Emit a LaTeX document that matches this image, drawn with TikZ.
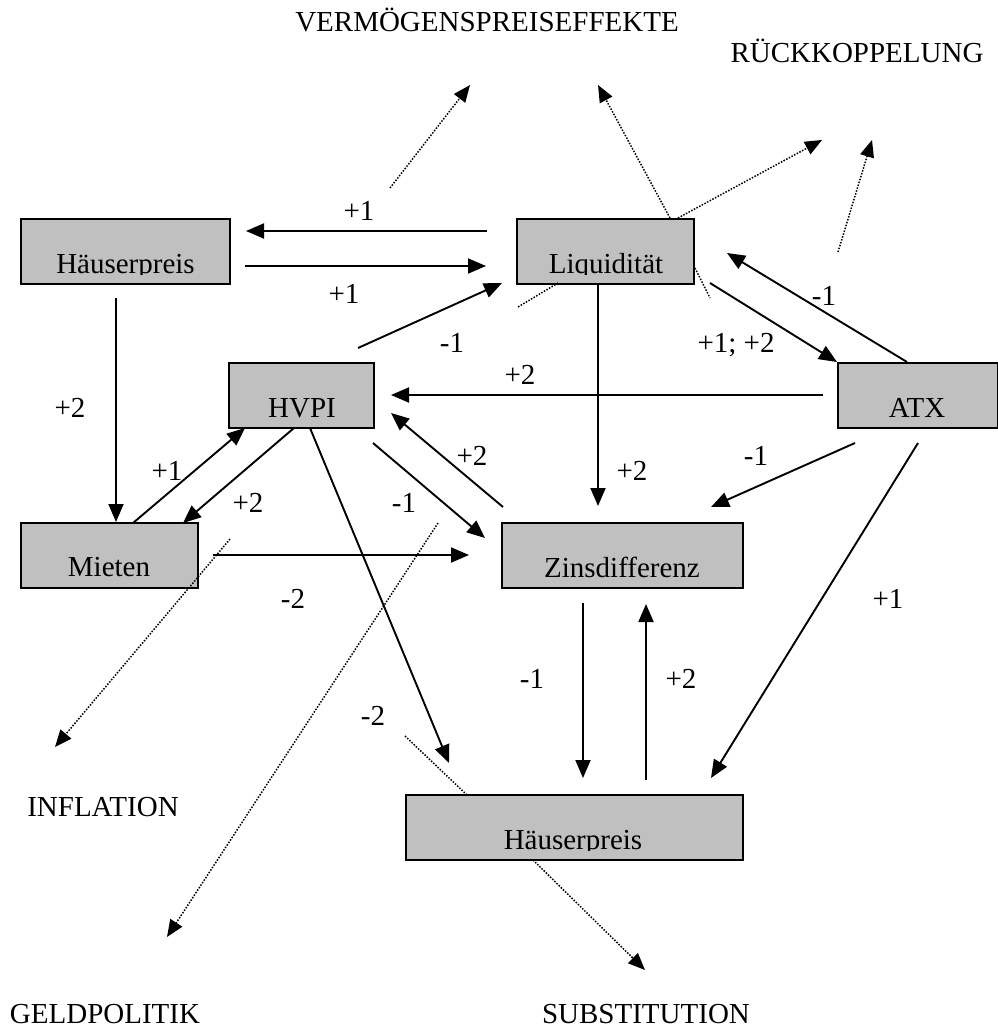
\documentclass[tikz,border=0pt]{standalone}
\usepackage{fontspec}
\setmainfont{Liberation Serif}
\usetikzlibrary{arrows.meta}
\definecolor{boxgray}{RGB}{192,192,192}
\newcommand\boxlabel[4]{\begin{scope}\clip ([yshift=10pt]#1.south west) rectangle (#1.north east);\node[txt] (#1t) at (#2,#3) {#4};\end{scope}}
\begin{document}
\begin{tikzpicture}[x=1pt,y=-1pt,
  box/.style={draw=black, fill=boxgray, line width=1.6pt, minimum width=#1, minimum height=65pt, inner sep=0pt, anchor=center},
  txt/.style={font=\fontsize{29}{34}\selectfont, inner sep=0pt, anchor=base},
  arr/.style={line width=1.9pt, -{Triangle[length=18pt,width=15pt]}},
  dotline/.style={line width=1.5pt, dash pattern=on 1.5pt off 1.5pt},
  dotarr/.style={dotline, -{Triangle[length=17pt,width=14pt]}}]
\fill[white] (0,0) rectangle (997,1030);
\useasboundingbox (0,0) rectangle (997,1030);

% boxes
\node[box=209pt] (hp1) at (125.5,251.5) {};
\node[box=177pt] (liq) at (605.5,251.5) {};
\node[box=145pt] (hvpi) at (301.5,395.5) {};
\node[box=160pt] (atx) at (918,395.5) {};
\node[box=177pt] (mie) at (109.5,555.5) {};
\node[box=241pt] (zins) at (622.5,555.5) {};
\node[box=337pt] (hp2) at (574.5,827.5) {};

\boxlabel{hp1}{125.5}{273}{Häuserpreis}
\boxlabel{liq}{606}{273}{Liquidität}
\boxlabel{hvpi}{302}{417}{HVPI}
\boxlabel{atx}{917}{417}{ATX}
\boxlabel{mie}{109}{576}{Mieten}
\boxlabel{zins}{622}{577}{Zinsdifferenz}
\boxlabel{hp2}{573}{849}{Häuserpreis}

% outer labels
\node[txt] (verm) at (487,32) {VERMÖGENSPREISEFFEKTE};
\node[txt] (rueck) at (857,63) {RÜCKKOPPELUNG};
\node[txt] (infl) at (103,816) {INFLATION};
\node[txt] (geld) at (105,1023) {GELDPOLITIK};
\node[txt] (subst) at (646,1023) {SUBSTITUTION};

% connector end points
\coordinate (a1s) at (487,231);  \coordinate (a1e) at (246,231);
\coordinate (a2s) at (245,266);  \coordinate (a2e) at (486,266);
\coordinate (a3s) at (358,348);  \coordinate (a3e) at (502,283);
\coordinate (a4s) at (116,298);  \coordinate (a4e) at (116,522);
\coordinate (a5s) at (133,523);  \coordinate (a5e) at (245,428);
\coordinate (a6s) at (294,428);  \coordinate (a6e) at (183,523);
\coordinate (a7s) at (310,428);  \coordinate (a7e) at (449,763);
\coordinate (a8s) at (373,443);  \coordinate (a8e) at (485,538);
\coordinate (a9s) at (503,507);  \coordinate (a9e) at (391,413);
\coordinate (a10s) at (213,555); \coordinate (a10e) at (469,555);
\coordinate (a11s) at (598,283); \coordinate (a11e) at (598,506);
\coordinate (a12s) at (710,283); \coordinate (a12e) at (837,362);
\coordinate (a13s) at (907,362); \coordinate (a13e) at (727,253);
\coordinate (a14s) at (823,395); \coordinate (a14e) at (391,395);
\coordinate (a15s) at (855,443); \coordinate (a15e) at (711,507);
\coordinate (a16s) at (918,443); \coordinate (a16e) at (711,778);
\coordinate (a17s) at (583,603); \coordinate (a17e) at (583,778);
\coordinate (a18s) at (646,780); \coordinate (a18e) at (646,604);

\coordinate (d1s) at (390,188);  \coordinate (d1e) at (470,85);
\coordinate (d2s) at (670,218);  \coordinate (d2e) at (598,85);
\coordinate (d3s) at (678,218);  \coordinate (d3e) at (822,140);
\coordinate (d4s) at (838,252);  \coordinate (d4e) at (872,140);
\coordinate (d5s) at (558,283);  \coordinate (d5e) at (518,307);
\coordinate (d6s) at (695,268);  \coordinate (d6e) at (710,298);
\coordinate (d7s) at (230,539);  \coordinate (d7e) at (55,747);
\coordinate (d8s) at (438,523);  \coordinate (d8e) at (167,937);
\coordinate (d9s) at (405,736);  \coordinate (d9e) at (467,795);
\coordinate (d10s) at (533,860); \coordinate (d10e) at (645,970);

% solid arrows
\foreach \i in {1,...,18} {\draw[arr] (a\i s) -- (a\i e);}

% dotted connectors
\foreach \i in {1,2,3,4,7,8,10} {\draw[dotarr] (d\i s) -- (d\i e);}
\foreach \i in {5,6,9} {\draw[dotline] (d\i s) -- (d\i e);}

% numbers
\node[txt] (n1) at (359,220) {+1};
\node[txt] (n2) at (344,303) {+1};
\node[txt] (n3) at (452,352) {-1};
\node[txt] (n4) at (70,417) {+2};
\node[txt] (n5) at (167,480) {+1};
\node[txt] (n6) at (248,512) {+2};
\node[txt] (n7) at (404,512) {-1};
\node[txt] (n8) at (293,608) {-2};
\node[txt] (n9) at (472,465) {+2};
\node[txt] (n10) at (520,384) {+2};
\node[txt] (n11) at (736,352) {+1; +2};
\node[txt] (n12) at (824,305) {-1};
\node[txt] (n13) at (632,480) {+2};
\node[txt] (n14) at (756,465) {-1};
\node[txt] (n15) at (888,608) {+1};
\node[txt] (n16) at (532,688) {-1};
\node[txt] (n17) at (681,688) {+2};
\node[txt] (n18) at (373,725) {-2};
\end{tikzpicture}
\end{document}
